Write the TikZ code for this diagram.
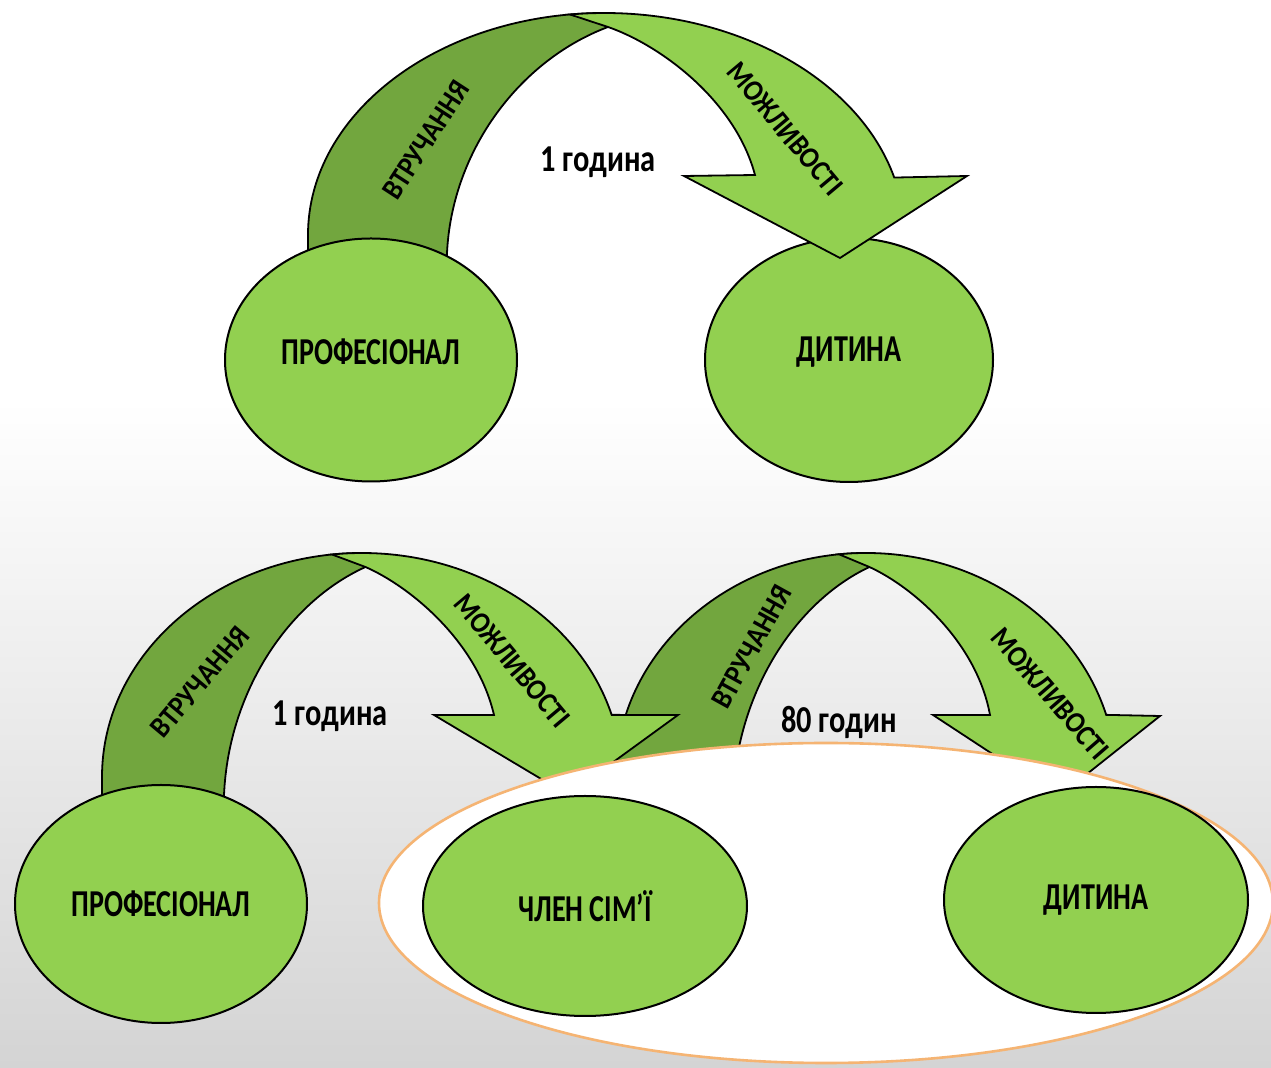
\documentclass[tikz,border=0pt]{standalone}
\usepackage{fontspec}
\setmainfont{Carlito}
\newfontfamily\lblfont{Carlito}[FakeStretch=0.74]
\newfontfamily\hrsfont{Carlito}[FakeStretch=0.8]
\newfontfamily\arwfont{Carlito}[FakeStretch=0.88]
\usetikzlibrary{shapes.geometric}
\definecolor{lgreen}{RGB}{146,208,80}
\definecolor{dgreen}{RGB}{114,166,62}
\definecolor{orng}{RGB}{245,180,115}
\definecolor{bggray}{RGB}{212,212,212}
\begin{document}
\begin{tikzpicture}[x=0.5pt,y=-0.5pt,
  blob/.style={ellipse, draw=black, line width=1pt, fill=lgreen, inner sep=0pt,
    font=\lblfont\bfseries\fontsize{19}{22}\selectfont},
  darkband/.style={fill=dgreen, draw=black, line width=0.9pt, line join=round},
  lightband/.style={fill=lgreen, draw=black, line width=0.9pt, line join=miter},
  hours/.style={font=\hrsfont\bfseries\fontsize{19}{22}\selectfont, text=black, inner sep=0pt},
  alab/.style={font=\arwfont\bfseries\fontsize{15}{17}\selectfont, inner sep=0pt}]
\useasboundingbox (0,0) rectangle (1271,1068);
\fill[white] (0,0) rectangle (1271,1068);
\shade[top color=white, bottom color=bggray] (0,400) rectangle (1271,1068);

% ---------- top group ----------
\node[blob, minimum width=144pt, minimum height=122pt] (d1) at (849,360) {\raisebox{11pt}{ДИТИНА}};
\draw[darkband] (308,280) -- (308,235) arc[start angle=180,end angle=270,x radius=296,y radius=222]
  -- (608,27) .. controls (520,60) and (452,150) .. (447,253) -- (447,280) -- cycle;
\draw[lightband] (570,14.5) arc[start angle=263.4,end angle=345,x radius=300,y radius=222]
  -- (967,176) -- (840,258) -- (684,176) -- (755,175)
  .. controls (735,100) and (660,45) .. (608,27) -- cycle;
\node[alab, rotate=57] (a1) at (426,140) {ВТРУЧАННЯ};
\node[alab, rotate=-50] (b1) at (785,129) {МОЖЛИВОСТІ};
\node[hours] (h1) at (598,162) {1 година};
\node[blob, minimum width=146pt, minimum height=121.5pt] (p1) at (371,360) {\raisebox{8pt}{ПРОФЕСІОНАЛ}};

% ---------- bottom group ----------
\draw[darkband] (102,830) -- (102,777) arc[start angle=180,end angle=270,x radius=260,y radius=224]
  -- (365.5,567) .. controls (288,602) and (228.5,692) .. (224,795) -- (224,830) -- cycle;
\draw[darkband] (616,830) -- (616,777) arc[start angle=180,end angle=270,x radius=250,y radius=224]
  -- (869.4,567) .. controls (795,602) and (737.6,692) .. (733,795) -- (733,830) -- cycle;
\draw[lightband] (332,554.5) arc[start angle=263.4,end angle=343.9,x radius=260,y radius=224]
  -- (678,715) -- (568,795) -- (434,715) -- (494,715)
  .. controls (477,642) and (411,587) .. (365.5,567) -- cycle;
\draw[lightband] (839,554.3) arc[start angle=263.8,end angle=343.9,x radius=250,y radius=224]
  -- (1160,716) -- (1058,797) -- (933,715) -- (990,715)
  .. controls (976.7,642) and (913,587) .. (869.4,567) -- cycle;
\node[alab, rotate=50] (a2) at (200,682) {ВТРУЧАННЯ};
\node[alab, rotate=-50] (b2) at (512,661) {МОЖЛИВОСТІ};
\node[alab, rotate=61] (a3) at (752,647) {ВТРУЧАННЯ};
\node[alab, rotate=-49] (b3) at (1050,694) {МОЖЛИВОСТІ};
\node[hours] (h2) at (330,716) {1 година};
\node[hours] (h3) at (839,722) {80 годин};

\node[ellipse, draw=orng, line width=1.3pt, fill=white, minimum width=447pt, minimum height=160pt] (w) at (826,903) {};
\node[blob, minimum width=146pt, minimum height=119pt] (p2) at (161,904) {ПРОФЕСІОНАЛ};
\node[blob, minimum width=162pt, minimum height=110pt] (c2) at (585,906) {ЧЛЕН СІМ’Ї};
\node[blob, minimum width=152pt, minimum height=113pt] (d2) at (1096,900) {ДИТИНА};
\end{tikzpicture}
\end{document}
